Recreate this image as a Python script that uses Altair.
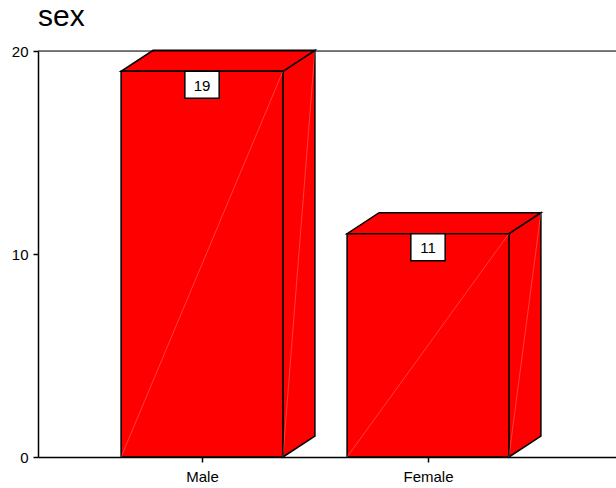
import altair as alt
import pandas as pd

# Frequencies by sex
categories = ["Male", "Female"]
counts = [19, 11]

# Geometry of the pseudo-3D bars (in data units)
HALF_W = 0.358      # half-width of the front face
DEPTH_X = 0.1416    # horizontal depth offset
DEPTH_Y = 1.034     # vertical depth offset
BOX_HALF = 0.076    # half-width of the value label box
BOX_H = 1.33        # height of the value label box

X_MIN, X_MAX = -0.7257, 1.8319
Y_MIN, Y_MAX = 0, 20

front_rows, top_rows, side_rows, diag_rows, box_rows = [], [], [], [], []
for i, (cat, n) in enumerate(zip(categories, counts)):
    left, right = i - HALF_W, i + HALF_W
    front_rows.append({"cat": cat, "x": left, "x2": right, "y": 0, "y2": n})
    # top face as a parallelogram built from an area between two edges
    top_rows += [
        {"cat": cat, "x": left, "lo": n, "hi": n},
        {"cat": cat, "x": left + DEPTH_X, "lo": n, "hi": n + DEPTH_Y},
        {"cat": cat, "x": right, "lo": n, "hi": n + DEPTH_Y},
        {"cat": cat, "x": right + DEPTH_X, "lo": n + DEPTH_Y, "hi": n + DEPTH_Y},
    ]
    # right side face
    side_rows += [
        {"cat": cat, "x": right, "lo": 0, "hi": n},
        {"cat": cat, "x": right + DEPTH_X, "lo": DEPTH_Y, "hi": n + DEPTH_Y},
    ]
    # faint shading seams across the faces
    diag_rows += [
        {"seg": f"{cat}-f", "x": left, "y": 0},
        {"seg": f"{cat}-f", "x": right, "y": n},
        {"seg": f"{cat}-s", "x": right, "y": 0},
        {"seg": f"{cat}-s", "x": right + DEPTH_X, "y": n + DEPTH_Y},
    ]
    box_rows.append({"cat": cat, "n": n, "x": i - BOX_HALF, "x2": i + BOX_HALF,
                     "y": n - BOX_H, "y2": n, "ym": n - BOX_H / 2, "xc": i})

front = pd.DataFrame(front_rows)
top = pd.DataFrame(top_rows)
side = pd.DataFrame(side_rows)
diag = pd.DataFrame(diag_rows)
boxes = pd.DataFrame(box_rows)

FONT = "Liberation Sans"
RED = "#ff0000"
EDGE = 1.5

x_scale = alt.Scale(domain=[X_MIN, X_MAX], nice=False, zero=False)
y_scale = alt.Scale(domain=[Y_MIN, Y_MAX], nice=False)

x_axis = alt.Axis(
    values=list(range(len(categories))),
    labelExpr="['" + "','".join(categories) + "'][datum.value]",
    title=None, grid=False, tickSize=5, tickColor="black", domainColor="black",
    domainWidth=1.5, tickWidth=1.5,
    labelFont=FONT, labelFontSize=15, labelColor="black", labelPadding=7,
)
y_axis = alt.Axis(
    values=[0, 10, 20], title=None, grid=False, tickSize=5, tickColor="black",
    domainColor="black", domainWidth=1.5, tickWidth=1.5,
    labelFont=FONT, labelFontSize=15, labelColor="black", labelPadding=5,
)

side_layer = alt.Chart(side).mark_area(
    color=RED, stroke="black", strokeWidth=EDGE, interpolate="linear"
).encode(
    x=alt.X("x:Q", scale=x_scale, axis=x_axis),
    y=alt.Y("lo:Q", scale=y_scale, axis=y_axis),
    y2="hi:Q",
    detail="cat:N",
)

top_layer = alt.Chart(top).mark_area(
    color=RED, stroke="black", strokeWidth=EDGE, interpolate="linear"
).encode(
    x=alt.X("x:Q", scale=x_scale),
    y=alt.Y("lo:Q", scale=y_scale),
    y2="hi:Q",
    detail="cat:N",
)

front_layer = alt.Chart(front).mark_rect(
    color=RED, stroke="black", strokeWidth=EDGE
).encode(
    x=alt.X("x:Q", scale=x_scale),
    x2="x2:Q",
    y=alt.Y("y:Q", scale=y_scale),
    y2="y2:Q",
)

seams = alt.Chart(diag).mark_line(
    color="white", strokeWidth=0.8, opacity=0.3
).encode(
    x=alt.X("x:Q", scale=x_scale),
    y=alt.Y("y:Q", scale=y_scale),
    detail="seg:N",
)

frame_top = alt.Chart(pd.DataFrame({"v": [Y_MAX]})).mark_rule(
    color="black", strokeWidth=1
).encode(
    y=alt.Y("v:Q", scale=y_scale),
    x=alt.datum(X_MIN, scale=x_scale),
    x2=alt.datum(X_MAX),
)

box_layer = alt.Chart(boxes).mark_rect(
    fill="white", stroke="black", strokeWidth=1.5
).encode(
    x=alt.X("x:Q", scale=x_scale),
    x2="x2:Q",
    y=alt.Y("y:Q", scale=y_scale),
    y2="y2:Q",
)

label_layer = alt.Chart(boxes).mark_text(
    font=FONT, fontSize=15, color="black", baseline="middle", align="center", dy=1
).encode(
    x=alt.X("xc:Q", scale=x_scale),
    y=alt.Y("ym:Q", scale=y_scale),
    text="n:Q",
)

chart = alt.layer(
    side_layer, top_layer, front_layer, seams, frame_top, box_layer, label_layer
).properties(
    width=578,
    height=406,
    padding={"left": 38, "top": 51, "right": 0, "bottom": 31},
    autosize="none",
    title=alt.TitleParams(
        text="sex", anchor="start", frame="group", font=FONT, fontSize=30,
        fontWeight="normal", color="black", offset=12,
    ),
).configure_view(stroke=None).configure(background="white")

chart.save("out.html", embed_options={"renderer": "svg", "actions": False})
